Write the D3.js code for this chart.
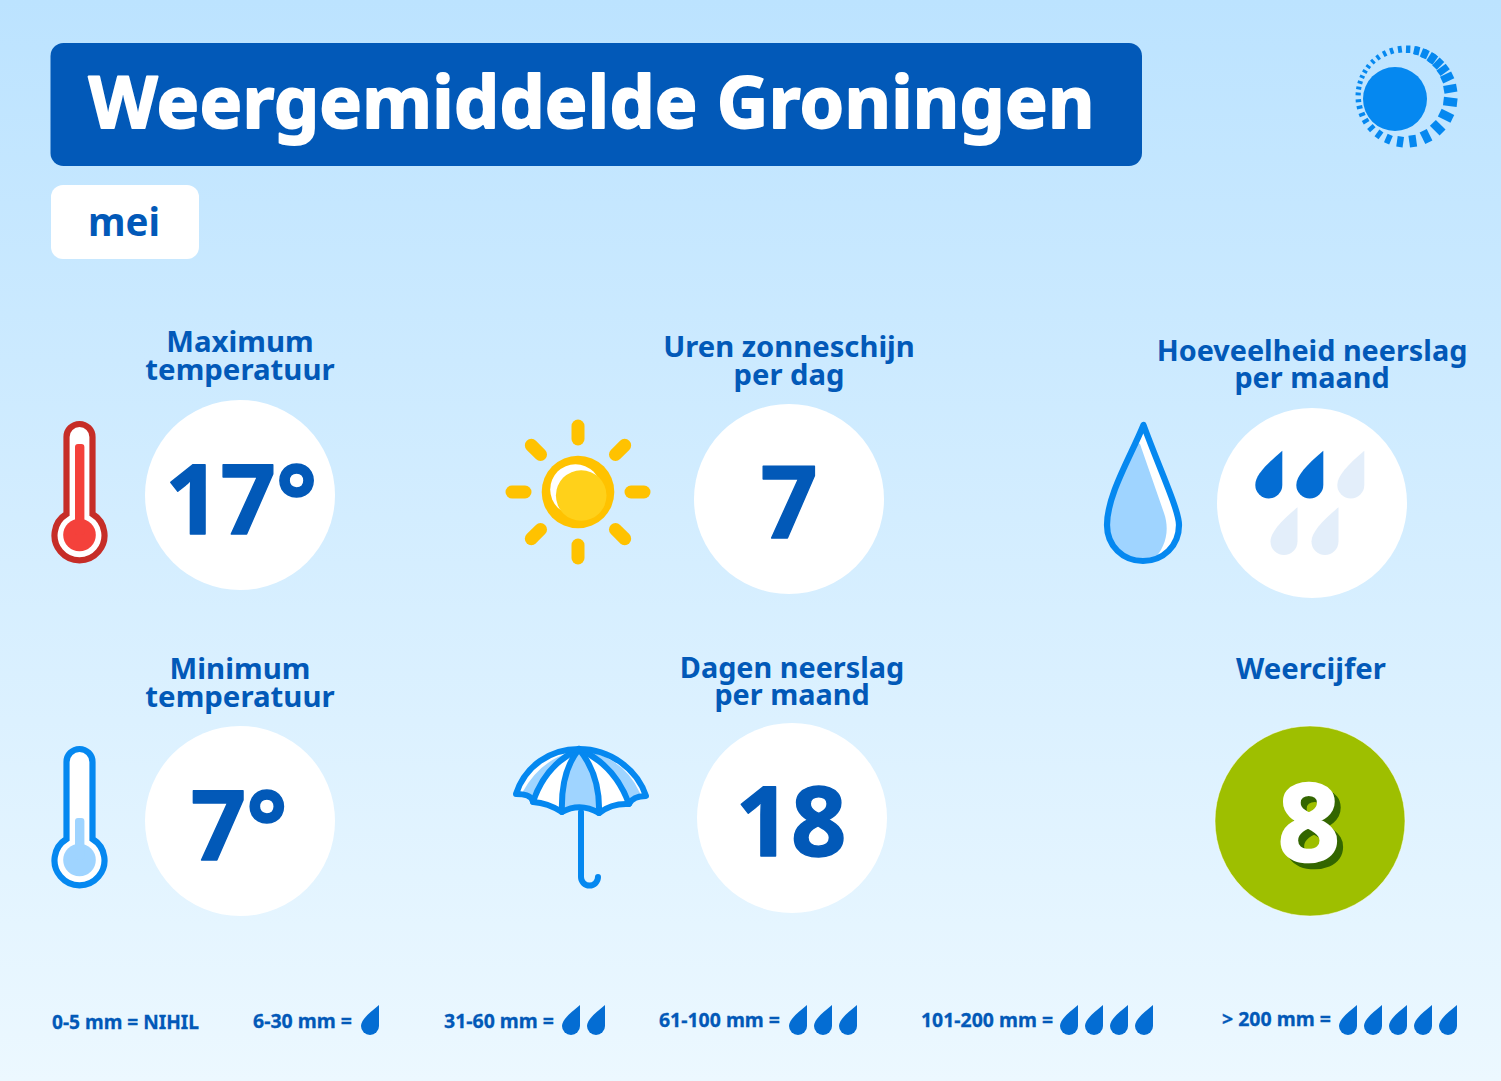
<!DOCTYPE html>
<html><head><meta charset="utf-8">
<script src="https://d3js.org/d3.v7.min.js"></script>
<style>html,body{margin:0;padding:0;background:#e8f6ff;overflow:hidden}svg{display:block}text{font-family:"Noto Sans",sans-serif;font-weight:700}</style>
</head><body><svg id="c" width="1501" height="1081"></svg>
<script>
const chartTitle = "Weergemiddelde Groningen";
const monthLabel = "mei";
const panelTitles = [["Maximum","temperatuur"],["Uren zonneschijn","per dag"],["Hoeveelheid neerslag","per maand"],["Minimum","temperatuur"],["Dagen neerslag","per maand"],["Weercijfer"]];
const panelValues = ["17°","7","","7°","18","8"];
const rainFilled = 2;
const rainTotal = 5;
const legendLabels = ["0-5 mm = NIHIL","6-30 mm =","31-60 mm =","61-100 mm =","101-200 mm =","> 200 mm ="];
const legendDrops = [0,1,2,3,4,5];

const BLUE="#0259b8", ICON="#0588f0", LIGHT="#9fd4ff", DROP="#046dd3", PALE="#e3eefa";
const svg=d3.select("#c");
const defs=svg.append("defs");
const g=defs.append("linearGradient").attr("id","bg").attr("x1",0).attr("y1",0).attr("x2",0).attr("y2",1);
g.append("stop").attr("offset",0).attr("stop-color","#bce3ff");
g.append("stop").attr("offset",1).attr("stop-color","#ecf8ff");
svg.append("rect").attr("width",1501).attr("height",1081).attr("fill","url(#bg)");

// header
svg.append("rect").attr("x",50.5).attr("y",43).attr("width",1091.5).attr("height",123).attr("rx",13).attr("fill",BLUE);
svg.append("text").attr("x",88.5).attr("y",128).attr("font-size",71.5).attr("fill","#fff").attr("stroke","#fff").attr("stroke-width",1.8).attr("stroke-linejoin","round").attr("textLength",1006).attr("lengthAdjust","spacing").text(chartTitle);
svg.append("rect").attr("x",51).attr("y",185).attr("width",148).attr("height",74).attr("rx",12).attr("fill","#fff");
svg.append("text").attr("x",88).attr("y",236).attr("font-size",40).attr("fill",BLUE).attr("textLength",72).attr("lengthAdjust","spacingAndGlyphs").text(monthLabel);

// logo sun
const logo=svg.append("g").attr("transform","translate(1406.5,96.5)");
svg.append("circle").attr("cx",1395).attr("cy",99).attr("r",32).attr("fill",ICON);
const rayAngles=[-10,7,26,45,64,82,98,113,126,138,149,158,167,175,183,190,197,204,211,218,226,234,243,252,262,272,283,294,305,-46,-36,-25,-57,-68,-78];
logo.selectAll("rect").data(rayAngles).join("rect").each(function(a){
  const k=Math.pow((1+Math.cos((a-25)*Math.PI/180))/2,1.1);
  const L=5+9*k, W=2.8+5.8*k;
  d3.select(this).attr("x",51-L).attr("y",-W/2).attr("width",L).attr("height",W).attr("fill",ICON).attr("transform",`rotate(${a})`);
});

// panels
const cx=[240,789,1312,240,792,1310], cy=[495,499,503,821,818,821];
const titleX=[240,789,1312,240,792,1311], titleY=[352,357,361,679,678,679], lineH=[28,28,27,28,27,28];
const titleSize=[29.4,29.2,28.8,29.4,28.8,29.3];
const valueX=[241,789,0,239,791,1309], valueY=[534,538,0,860,856,861], valueSize=[97,100,0,97,97,108];
panelTitles.forEach((lines,i)=>{
  const t=svg.append("text").attr("text-anchor","middle").attr("font-size",titleSize[i]).attr("fill",BLUE);
  lines.forEach((l,j)=>t.append("tspan").attr("x",titleX[i]).attr("y",titleY[i]+j*lineH[i]).text(l));
  svg.append("circle").attr("cx",cx[i]).attr("cy",cy[i]).attr("r",95).attr("fill",i==5?"#9ebf00":"#fff").attr("stroke",i==5?"#fff":"none").attr("stroke-width",i==5?0.5:0);
  if(!panelValues[i])return;
  if(i==5) svg.append("text").attr("x",valueX[i]+6).attr("y",valueY[i]+6).attr("text-anchor","middle").attr("font-size",valueSize[i]).attr("fill","#336600").attr("stroke","#336600").attr("stroke-width",2.4).text(panelValues[i]);
  svg.append("text").attr("x",valueX[i]).attr("y",valueY[i]).attr("text-anchor","middle").attr("font-size",valueSize[i]).attr("fill",i==5?"#fff":BLUE).attr("stroke",i==5?"#fff":BLUE).attr("stroke-width",i==5?2.4:1.4).attr("stroke-linejoin","round").text(panelValues[i]);
});

// thermometers
function thermo(top,stroke,fill,stemTop){
  const y=top-421, G=svg.append("g").attr("transform",`translate(0,${y})`);
  G.append("path").attr("d","M66.5,514 A25,25 0 1,0 92.5,514 L92.5,437 A13,13 0 0,0 66.5,437 Z").attr("fill","#fff").attr("stroke",stroke).attr("stroke-width",6.2);
  G.append("circle").attr("cx",79.5).attr("cy",535).attr("r",16.3).attr("fill",fill);
  G.append("rect").attr("x",75).attr("y",stemTop).attr("width",9.4).attr("height",535-stemTop).attr("rx",3).attr("fill",fill);
}
thermo(421,"#c62d27","#f4413b",444);
thermo(746,ICON,LIGHT,493);

// sun icon
const sun=svg.append("g").attr("transform","translate(578,492)");
sun.selectAll("rect").data(d3.range(0,360,45)).join("rect").attr("x",46.5).attr("y",-6.5).attr("width",26).attr("height",13).attr("rx",6.5).attr("fill","#ffc200").attr("transform",d=>`rotate(${d})`);
sun.append("circle").attr("r",36.3).attr("fill","#ffc200");
sun.append("circle").attr("cx",-2.5).attr("cy",-2.5).attr("r",25.3).attr("fill","#fff");
sun.append("circle").attr("cx",3.2).attr("cy",3.5).attr("r",25.3).attr("fill","#ffd11a");

// big drop
const bigDrop="M1143.5,425 C1131,456 1107,495 1107,525 C1107,546 1123,561 1143,561 C1163,561 1179,546 1179,525 C1179,510 1160,470 1143.5,425 Z";
defs.append("clipPath").attr("id","dc").append("path").attr("d",bigDrop);
svg.append("path").attr("d",bigDrop).attr("fill","#fff");
svg.append("path").attr("clip-path","url(#dc)").attr("d","M1140,444 L1164,513 C1170,530 1166,548 1152,561 L1090,570 L1090,420 Z").attr("fill",LIGHT);
svg.append("path").attr("d",bigDrop).attr("fill","none").attr("stroke",ICON).attr("stroke-width",6.2).attr("stroke-linejoin","round");

// small drop marks
const dropPath=(w,h)=>{const r=w/2,b=h-r;return `M0,0 L0,${b} A${r},${r} 0 0 1 ${-w},${b} C${-w},${b-9*h/47} ${-w*.62},${h*.3} 0,0 Z`;};
const rainX=d3.scaleLinear().domain([0,1]).range([1282.3,1323.3]);
const rainCells=d3.range(rainTotal).map(i=>({i,col:i<3?i:i-3+0.37,row:i<3?0:1}));
const rainY=d3.scaleLinear().domain([0,1]).range([450.7,507.3]);
svg.selectAll("path.rain").data(rainCells).join("path").attr("class","rain").attr("d",dropPath(27,47.7))
  .attr("transform",d=>`translate(${rainX(d.col)},${rainY(d.row)})`).attr("fill",d=>d.i<rainFilled?DROP:PALE);

// legend
const legX=[52,253,444,659,921,1222], legW=[147,99,110,121,132,109], legY=[1029,1028,1028,1027,1027,1026];
const legDropStart=[0,379,580,807,1078,1357];
const dropStep=d3.scaleLinear().domain([0,1]).range([0,25]);
legendLabels.forEach((l,i)=>{
  svg.append("text").attr("x",legX[i]).attr("y",legY[i]).attr("font-size",20).attr("fill",BLUE).attr("stroke",BLUE).attr("stroke-width",0.3).attr("textLength",legW[i]).attr("lengthAdjust","spacingAndGlyphs").text(l);
  svg.selectAll("path.l"+i).data(d3.range(legendDrops[i])).join("path").attr("class","l"+i).attr("d",dropPath(18,30))
    .attr("transform",d=>`translate(${legDropStart[i]+dropStep(d)},1005)`).attr("fill",DROP);
});

// umbrella
const um=svg.append("g");
const canopy="M516,794 C525,766 550,749 579,749 C610,749 637,769 646,796 Q633,796 629,804 Q612,803 599,813 Q580,802 562,812 Q548,803 533,802 Q532,794 516,794 Z";
um.append("path").attr("d",canopy).attr("fill","#fff");
um.append("path").attr("d","M579,749 C566,765 561,785 562,812 Q580,802 599,813 C600,785 592,765 579,749 Z").attr("fill",LIGHT);
um.append("path").attr("d","M579,749 Q545,765 533,802 L522,793 Q540,760 572,752 Z").attr("fill",LIGHT);
um.append("path").attr("d","M579,749 Q615,765 629,804 L640,793 Q625,760 590,752 Z").attr("fill",LIGHT);
["M579,749 C566,765 561,785 562,812","M579,749 C592,765 600,785 599,813","M579,749 Q545,765 533,802","M579,749 Q615,765 629,804",canopy,"M581,812 L581,877 A8.5,8.5 0 0 0 598,877"]
 .forEach(d=>um.append("path").attr("d",d).attr("fill","none").attr("stroke",ICON).attr("stroke-width",6).attr("stroke-linejoin","round").attr("stroke-linecap","round"));
</script></body></html>
